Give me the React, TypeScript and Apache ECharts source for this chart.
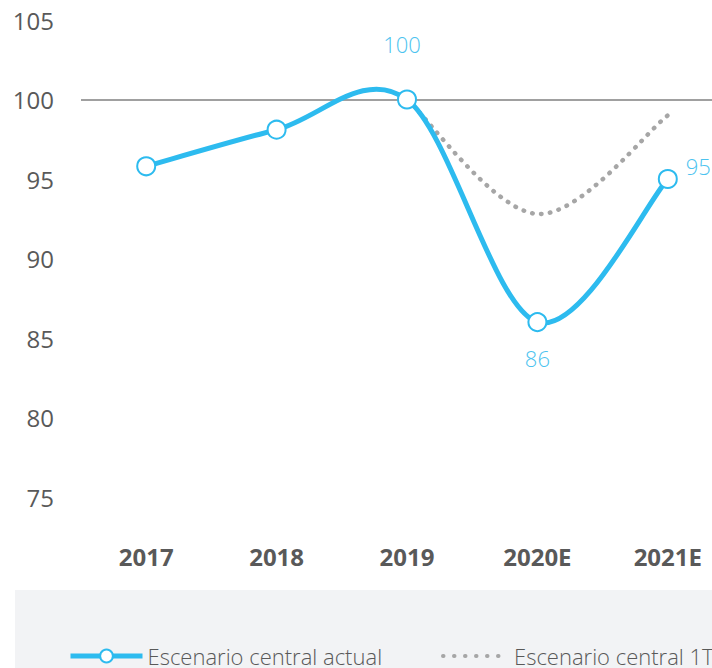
import React, { useEffect, useRef } from "react";
import * as echarts from "echarts";

const categories = ["2017", "2018", "2019", "2020E", "2021E"];
const actualValues = [95.8, 98.1, 100, 86, 95];
const previousValues = [null, null, 100, 92.8, 99];
const yTicks = { min: 75, max: 105, interval: 5 };
const referenceLevel = 100;
const seriesNames = ["Escenario central actual", "Escenario central 1T"];

const BLUE = "#2DBBEF";
const GRAY = "#A6A6A6";
const TEXT = "#595959";
const FONT = "'Open Sans', 'Noto Sans', sans-serif";
const DOTS = [0.5, 8.5];
const LEGEND_DOTS = [0.5, 10.5];

function smoothPath(points: number[][]): string {
  let d = `M${points[0][0]},${points[0][1]}`;
  for (let i = 0; i < points.length - 1; i++) {
    const p0 = points[Math.max(i - 1, 0)];
    const p1 = points[i];
    const p2 = points[i + 1];
    const p3 = points[Math.min(i + 2, points.length - 1)];
    const c1x = p1[0] + (p2[0] - p0[0]) / 6;
    const c1y = p1[1] + (p2[1] - p0[1]) / 6;
    const c2x = p2[0] - (p3[0] - p1[0]) / 6;
    const c2y = p2[1] - (p3[1] - p1[1]) / 6;
    d += ` C${c1x},${c1y} ${c2x},${c2y} ${p2[0]},${p2[1]}`;
  }
  return d;
}

function curveSeries(values: (number | null)[], style: any, z: number) {
  return {
    type: "custom",
    name: "_curve" + z,
    data: [[0, 100]],
    silent: true,
    clip: false,
    z,
    renderItem: (_params: any, api: any) => {
      const pts: number[][] = [];
      values.forEach((v, i) => {
        if (v != null) pts.push(api.coord([i, v]));
      });
      return {
        type: "path",
        shape: { pathData: smoothPath(pts) },
        style: { fill: "none", ...style },
      };
    },
  };
}

export default function App() {
  const ref = useRef<HTMLDivElement>(null);
  useEffect(() => {
    if (!ref.current) return;
    const chart = echarts.init(ref.current, null, { renderer: "svg" });
    const labelled = [2, 3, 4];
    const labelPos: any = {
      2: { position: "top", distance: 35, offset: [-5, 0] },
      3: { position: "bottom", distance: 15 },
      4: { position: "right", distance: 8, offset: [0, -13] },
    };
    chart.setOption({
      animation: false,
      textStyle: { fontFamily: FONT },
      graphic: [
        {
          type: "rect",
          left: 15,
          top: 590,
          shape: { width: 697, height: 78 },
          style: { fill: "#F2F3F5" },
          z: -10,
        },
      ],
      grid: {
        left: 81,
        width: 652,
        top: 20,
        height: 477,
        containLabel: false,
        outerBoundsMode: "none",
      },
      xAxis: {
        type: "category",
        data: categories,
        boundaryGap: true,
        axisLine: { show: false },
        axisTick: { show: false },
        axisLabel: {
          color: TEXT,
          fontSize: 24,
          fontWeight: "bold",
          fontFamily: FONT,
          margin: 47,
        },
        splitLine: { show: false },
      },
      yAxis: {
        type: "value",
        min: yTicks.min,
        max: yTicks.max,
        interval: yTicks.interval,
        axisLine: { show: false },
        axisTick: { show: false },
        splitLine: { show: false },
        axisLabel: { color: TEXT, fontSize: 24, fontFamily: FONT, margin: 27 },
      },
      legend: [
        {
          data: [
            {
              name: seriesNames[0],
              lineStyle: { opacity: 1, width: 5, color: BLUE },
            },
          ],
          left: 63,
          top: 640,
          itemWidth: 72,
          itemHeight: 16,
          textStyle: { color: TEXT, fontSize: 22, fontWeight: 300, fontFamily: FONT },
        },
        {
          data: [
            {
              name: seriesNames[1],
              itemStyle: { opacity: 0 },
              lineStyle: { opacity: 1, width: 4, color: GRAY, type: LEGEND_DOTS, cap: "round" },
            },
          ],
          left: 436,
          top: 640,
          itemWidth: 66,
          itemHeight: 16,
          textStyle: { color: TEXT, fontSize: 22, fontWeight: 300, fontFamily: FONT },
        },
      ],
      series: [
        curveSeries(previousValues, { stroke: GRAY, lineWidth: 4.5, lineDash: DOTS, lineCap: "round" }, 1),
        curveSeries(actualValues, { stroke: BLUE, lineWidth: 5 }, 2),
        {
          name: seriesNames[1],
          type: "line",
          data: previousValues,
          symbol: "none",
          z: 0,
          lineStyle: { color: GRAY, width: 4.5, opacity: 0 },
          itemStyle: { color: GRAY },
        },
        {
          name: seriesNames[0],
          type: "line",
          data: actualValues.map((v, i) =>
            labelled.includes(i)
              ? { value: v, label: { show: true, ...labelPos[i] } }
              : { value: v }
          ),
          symbol: "circle",
          symbolSize: 18,
          z: 3,
          lineStyle: { color: BLUE, width: 5, opacity: 0 },
          itemStyle: { color: "#FFFFFF", borderColor: BLUE, borderWidth: 2 },
          label: {
            show: false,
            color: "#4CC3EF",
            fontSize: 22,
            fontWeight: 300,
            fontFamily: FONT,
          },
          markLine: {
            silent: true,
            symbol: "none",
            label: { show: false },
            lineStyle: { color: "#808080", width: 1.5, type: "solid", opacity: 1 },
            data: [{ yAxis: referenceLevel }],
            z: 1,
          },
        },
      ],
    });
    return () => chart.dispose();
  }, []);
  return (
    <div
      ref={ref}
      style={{ position: "absolute", left: 0, top: 0, width: 712, height: 668, background: "#fff" }}
    />
  );
}
